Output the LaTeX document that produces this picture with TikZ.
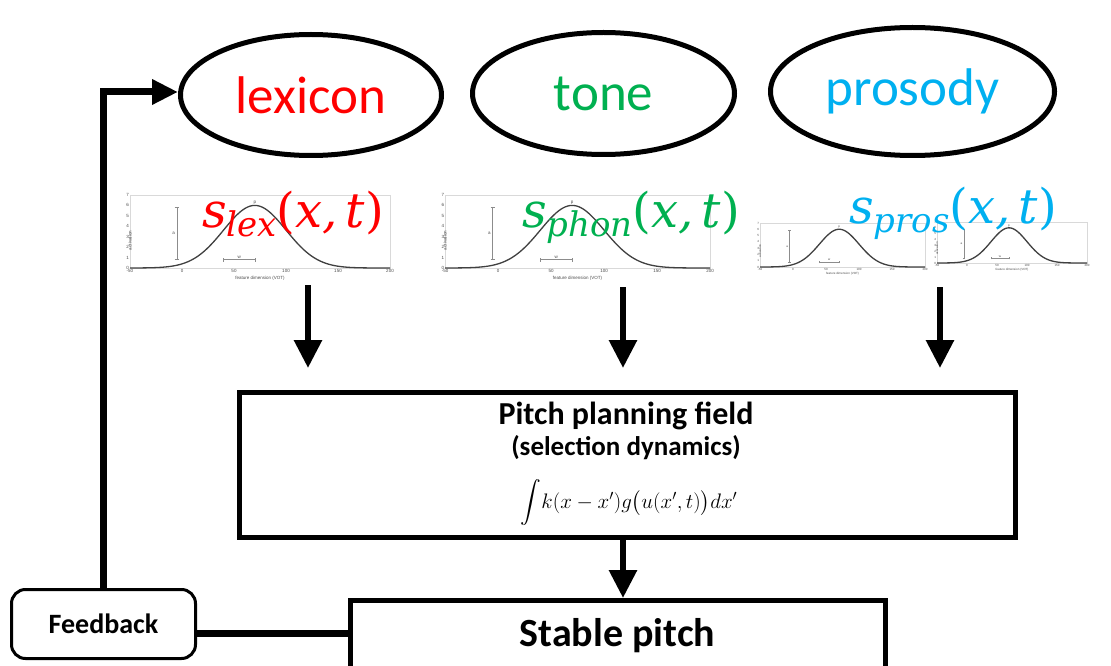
\documentclass[tikz,border=0pt]{standalone}
\usepackage{fix-cm}
\usepackage{exscale}
\usepackage{fontspec}
\setmainfont{Carlito}
\newfontfamily\plotfont{Liberation Sans}
\newfontfamily\labfont{DejaVu Serif}
\usetikzlibrary{arrows.meta,shapes.geometric,calc}

\definecolor{lexred}{RGB}{255,0,0}
\definecolor{tonegreen}{RGB}{0,176,80}
\definecolor{prosblue}{RGB}{0,176,240}

\tikzset{
  topic/.style={ellipse, draw, line width=5pt, inner sep=0pt,
    font=\fontsize{53}{53}\selectfont},
  framebox/.style={draw, line width=5pt, inner sep=0pt},
  boxtext/.style={inner sep=0pt},
  fbbox/.style={draw, line width=3pt, rounded corners=14pt, inner sep=0pt,
    minimum width=184pt, minimum height=69pt,
    font=\bfseries\fontsize{28}{28}\selectfont},
  downarrow/.style={line width=6pt, -{Triangle[length=28pt,width=27pt]}},
  fbarrow/.style={line width=7pt, -{Triangle[length=26pt,width=24pt]}},
  linkline/.style={line width=7pt},
  plotframe/.style={draw=black!15, line width=0.6pt},
  plotcurve/.style={draw=black!75, line width=1.3pt},
  errbar/.style={draw=black!45, line width=0.6pt},
  ticklab/.style={inner sep=0.8pt, text=black!70},
  fieldlabel/.style={inner sep=0pt, anchor=base,
    font=\labfont\itshape\fontsize{48}{48}\selectfont},
}

% s_<name>(x,t) with a large subscript
\newcommand\fieldlab[1]{s\raisebox{-9pt}{\fontsize{34}{34}\selectfont #1}{\upshape(}x,\,t{\upshape)}}

% small activation plot: #1,#2 position of (-50,0); #3,#4 scales; #5 font size
\newcommand\featplot[5]{%
  \begin{scope}[shift={(#1,#2)}, xscale=#3, yscale=-#4,
      every node/.append style={font=\plotfont\fontsize{#5}{#5}\selectfont}]
    \draw[plotframe] (-50,0) rectangle (200,7);
    \foreach \v in {-50,0,50,100,150,200}
      \node[ticklab, below] at (\v,0) {\v};
    \foreach \v in {0,...,7}
      \node[ticklab, left] at (-50,\v) {\v};
    \node[ticklab, rotate=90, xshift=-2*#5pt] at (-50,3.5) {activation};
    \node[ticklab, yshift=-2.3*#5pt] at (75,0) {feature dimension (VOT)};
    \draw[errbar] (-5,0.8) -- (-5,5.8)
      (-7,0.8) -- (-3,0.8) (-7,5.8) -- (-3,5.8);
    \draw[errbar] (40,0.8) -- (70,0.8)
      (40,0.6) -- (40,1.0) (70,0.6) -- (70,1.0);
    \node[ticklab, left] at (-6,3.3) {a};
    \node[ticklab, above] at (55,0.8) {w};
    \node[ticklab, above] at (70,6) {p};
    \draw[plotcurve] plot[domain=-50:200, samples=120, smooth]
      (\x, {6*exp(-0.5*((\x-70)/30)^2)});
  \end{scope}}

\begin{document}
\begin{tikzpicture}[x=1pt, y=-1pt]
  \useasboundingbox[fill=white] (0,0) rectangle (1111,666);

  % input fields
  \node[topic, text=lexred, minimum width=261pt, minimum height=121pt]
    (lex) at (311,95) {lexicon};
  \node[topic, text=tonegreen, minimum width=262pt, minimum height=122pt]
    (tone) at (603.5,93.5) {tone};
  \node[topic, text=prosblue, minimum width=284pt, minimum height=128pt]
    (pros) at (912.5,91.5) {prosody};

  % activation profiles
  \featplot{182}{268}{1.04}{10.43}{4.5}
  \featplot{498}{268}{1.06}{10.43}{4.5}
  \featplot{793}{267}{0.66}{6.29}{3}
  \featplot{967}{263}{0.60}{5.86}{3}

  \node[fieldlabel, text=lexred]    (slex)  at (293,227) {\fieldlab{lex}};
  \node[fieldlabel, text=tonegreen] (sphon) at (631,227) {\fieldlab{phon}};
  \node[fieldlabel, text=prosblue]  (spros) at (953,223) {\fieldlab{pros}};

  % planning field and output
  \node[framebox, minimum width=776pt, minimum height=145pt]
    (field) at (627.5,465) {};
  \node[boxtext, font=\bfseries\fontsize{32}{32}\selectfont] (fieldtitle)
    at (626,416) {Pitch planning field};
  \node[boxtext, font=\bfseries\fontsize{27}{27}\selectfont] (fieldsub)
    at (626,448) {(selection dynamics)};
  \node[boxtext, font=\fontsize{21}{21}\selectfont] (fieldeq) at (629,503)
    {$\smash{\displaystyle\int} k(x-x')g\big(u(x',t)\big)dx'$};

  \node[framebox, minimum width=535pt, minimum height=110pt]
    (stable) at (618,655.5) {};
  \node[boxtext, font=\bfseries\fontsize{40}{40}\selectfont] (stabletext)
    at (617.5,636) {Stable pitch};

  \node[fbbox] (fb) at (103.5,624) {Feedback};

  % connectors
  \coordinate (lexdown)  at (308,285);
  \coordinate (tonedown) at (623,287);
  \coordinate (prosdown) at (940,287);
  \draw[downarrow] (lexdown)  -- ($(lexdown |- field.north)+(0,-22)$);
  \draw[downarrow] (tonedown) -- ($(tonedown |- field.north)+(0,-22)$);
  \draw[downarrow] (prosdown) -- ($(prosdown |- field.north)+(0,-22)$);
  \draw[downarrow] (tonedown |- field.south) -- (tonedown |- stable.north);

  \coordinate (fblink) at ($(fb.east)+(0,9)$);
  \draw[linkline] (fblink) -- (fblink -| stable.west);

  \coordinate (lexin) at ($(lex.west)+(0,-3)$);
  \draw[fbarrow] (fb.north) |- (lexin);
\end{tikzpicture}
\end{document}
